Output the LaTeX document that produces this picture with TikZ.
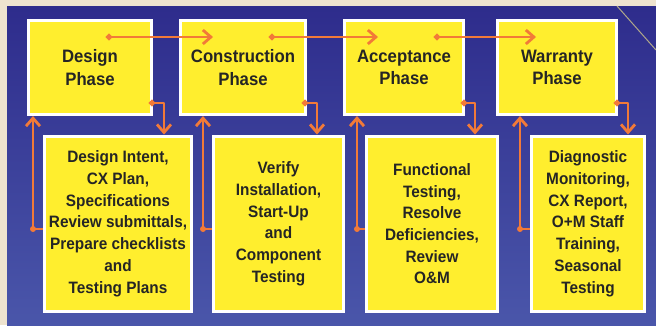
\documentclass[tikz,border=0pt]{standalone}
\usepackage{fontspec}
\setmainfont[FakeStretch=0.93]{Liberation Sans}
\usetikzlibrary{arrows.meta,calc}

\definecolor{parchment}{HTML}{EEE3CF}
\definecolor{navy}{HTML}{2E2C8C}
\definecolor{midblue}{HTML}{3C3FA0}
\definecolor{panelblue}{HTML}{4A56AA}
\definecolor{phaseyellow}{HTML}{FFEE2E}
\definecolor{linkorange}{HTML}{F27A38}
\definecolor{ink}{HTML}{252525}
\definecolor{seam}{HTML}{B0A88A}

\begin{document}
\begin{tikzpicture}[x=1pt,y=-1pt,
  box/.style={fill=phaseyellow, draw=white, line width=3pt, inner sep=0pt,
    align=center, text=ink},
  phase/.style={box, font=\bfseries\fontsize{18}{22.4}\selectfont},
  task/.style={box, font=\bfseries\fontsize{16.5}{21.7}\selectfont},
  link/.style={draw=linkorange, line width=2.8pt, line join=round,
    {Circle[length=6pt]}-{Straight Barb[length=8pt,width=14pt]}},
  uplink/.style={draw=linkorange, line width=2.8pt, line join=round,
    -{Straight Barb[length=8pt,width=14pt]}},
]
% page and panel
\useasboundingbox (0,0) rectangle (656,325);
\fill[parchment] (0,0) rectangle (656,325);
\shade[top color=navy, middle color=midblue, bottom color=panelblue]
  (7,6) rectangle (656,325);
\draw[seam, line width=1pt] (617,6) -- (656,50);

% phase boxes
\node[phase, minimum width=123, minimum height=94] (D) at (90,67.5) {Design\\Phase};
\node[phase, minimum width=125, minimum height=94] (C) at (243,67.5) {Construction\\Phase};
\node[phase, minimum width=119, minimum height=94] (A) at (404,67.5) {Acceptance\\Phase};
\node[phase, minimum width=119, minimum height=94] (W) at (557,67.5) {Warranty\\Phase};

% task boxes
\node[task, minimum width=147, minimum height=175.5] (DI) at (118,223.75)
  {Design Intent,\\CX Plan,\\Specifications\\Review submittals,\\Prepare checklists\\and\\Testing Plans};
\node[task, minimum width=130, minimum height=175.5] (V) at (278.5,223.75)
  {Verify\\Installation,\\Start-Up\\and\\Component\\Testing};
\node[task, minimum width=131, minimum height=175.5] (F) at (432,223.75)
  {Functional\\Testing,\\Resolve\\Deficiencies,\\Review\\O\&M};
\node[task, minimum width=113, minimum height=175.5] (G) at (588,223.75)
  {Diagnostic\\Monitoring,\\CX Report,\\O+M Staff\\Training,\\Seasonal\\Testing};

% phase-to-phase links
\coordinate (h1s) at (106,37);  \coordinate (h1e) at (213,37);
\coordinate (h2s) at (269,37);  \coordinate (h2e) at (378,37);
\coordinate (h3s) at (434,37);  \coordinate (h3e) at (536,37);
\draw[link] (h1s) -- (h1e);
\draw[link] (h2s) -- (h2e);
\draw[link] (h3s) -- (h3e);

% phase-to-task links
\coordinate (d1s) at (149,103); \coordinate (d1c) at (164,103);
\coordinate (d2s) at (302,103); \coordinate (d2c) at (317,103);
\coordinate (d3s) at (461,103); \coordinate (d3c) at (475,103);
\coordinate (d4s) at (614,103); \coordinate (d4c) at (628,103);
\draw[link] (d1s) -- (d1c) -- (d1c |- DI.north);
\draw[link] (d2s) -- (d2c) -- (d2c |- V.north);
\draw[link] (d3s) -- (d3c) -- (d3c |- F.north);
\draw[link] (d4s) -- (d4c) -- (d4c |- G.north);

% task-to-phase feedback links
\coordinate (u1) at (33,229);
\coordinate (u2) at (203,229);
\coordinate (u3) at (357,229);
\coordinate (u4) at (520,229);
\draw[uplink] (u1 -| DI.west) -- (u1) -- (u1 |- D.south);
\draw[uplink] (u2 -| V.west) -- (u2) -- (u2 |- C.south);
\draw[uplink] (u3 -| F.west) -- (u3) -- (u3 |- A.south);
\draw[uplink] (u4 -| G.west) -- (u4) -- (u4 |- W.south);
\foreach \c in {u1,u2,u3,u4} \fill[linkorange] (\c) circle (3pt);
\end{tikzpicture}
\end{document}
